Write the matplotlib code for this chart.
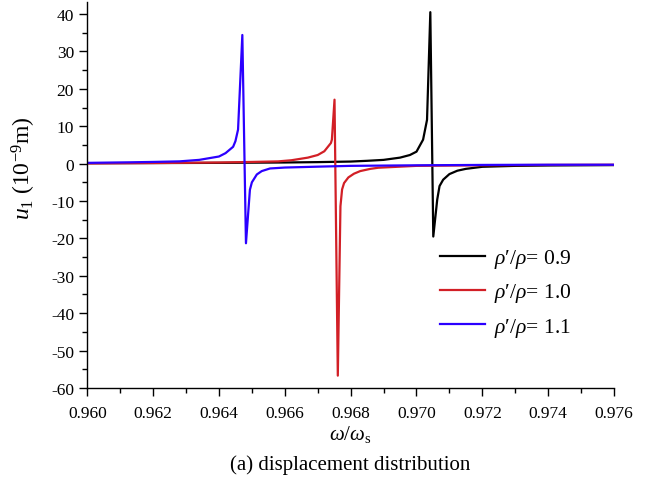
import matplotlib
matplotlib.use("Agg")
import matplotlib.pyplot as plt
from matplotlib.ticker import MultipleLocator, FormatStrFormatter

plt.rcParams['font.family'] = ['Liberation Serif', 'DejaVu Serif']
plt.rcParams['mathtext.fontset'] = 'custom'
plt.rcParams['mathtext.rm'] = 'Liberation Serif'
plt.rcParams['mathtext.it'] = 'Liberation Serif:italic'
plt.rcParams['axes.unicode_minus'] = False

# rho'/rho = 0.9
black_w = [0.960, 0.962, 0.964, 0.966, 0.967, 0.968, 0.9685, 0.969, 0.9695, 0.9698,
           0.9700, 0.9702, 0.97032, 0.97042, 0.97051, 0.97063, 0.9707, 0.97081,
           0.9710, 0.97124, 0.9715, 0.9720, 0.973, 0.974, 0.975, 0.976]
black_u = [0.1, 0.15, 0.2, 0.3, 0.4, 0.55, 0.75, 1.0, 1.6, 2.3,
           3.2, 6.4, 11.7, 40.5, -19.5, -9.6, -6.0, -4.3,
           -2.8, -1.9, -1.4, -0.85, -0.6, -0.5, -0.45, -0.4]

# rho'/rho = 1.0
red_w = [0.960, 0.962, 0.964, 0.965, 0.9658, 0.9662, 0.9667, 0.9670, 0.9672, 0.9674,
         0.96743, 0.96751, 0.96761, 0.96769, 0.96774, 0.9678, 0.96793, 0.9681, 0.96829,
         0.9686, 0.96884, 0.970, 0.972, 0.974, 0.976]
red_u = [0.05, 0.15, 0.3, 0.45, 0.6, 0.9, 1.6, 2.3, 3.3, 5.5,
         6.4, 17.1, -56.7, -11.4, -6.9, -5.2, -3.7, -2.7, -2.0,
         -1.4, -1.1, -0.6, -0.45, -0.35, -0.3]

# rho'/rho = 1.1
blue_w = [0.960, 0.9613, 0.962, 0.9628, 0.9634, 0.9640, 0.9642, 0.96443, 0.9645, 0.96458,
          0.96471, 0.96482, 0.96494, 0.9650, 0.96515, 0.9653, 0.96555, 0.966, 0.96707,
          0.968, 0.970, 0.972, 0.974, 0.976]
blue_u = [0.2, 0.35, 0.45, 0.6, 1.0, 1.9, 2.8, 4.5, 6.0, 9.1,
          34.4, -21.3, -7.0, -5.0, -2.9, -2.0, -1.3, -1.05, -0.8,
          -0.6, -0.45, -0.35, -0.3, -0.3]

labels = ["$\\rho$\u2032$/\\rho$= 0.9", "$\\rho$\u2032$/\\rho$= 1.0", "$\\rho$\u2032$/\\rho$= 1.1"]
colors = ['black', '#d21f26', '#2b00ff']

fig = plt.figure(figsize=(6.46, 4.81), dpi=100)
ax = fig.add_axes([0.1351, 0.1913, 0.8154, 0.8031])

ax.plot(black_w, black_u, color=colors[0], lw=1.6, label=labels[0])
ax.plot(red_w, red_u, color=colors[1], lw=1.6, label=labels[1])
ax.plot(blue_w, blue_u, color=colors[2], lw=1.6, label=labels[2])

ax.set_xlim(0.960, 0.976)
ax.set_ylim(-60, 43.3)
ax.xaxis.set_major_locator(MultipleLocator(0.002))
ax.xaxis.set_minor_locator(MultipleLocator(0.001))
ax.xaxis.set_major_formatter(FormatStrFormatter('%.3f'))
ax.yaxis.set_major_locator(MultipleLocator(10))
ax.yaxis.set_minor_locator(MultipleLocator(5))
ax.spines['top'].set_visible(False)
ax.spines['right'].set_visible(False)
for s in ['left', 'bottom']:
    ax.spines[s].set_linewidth(1.0)
ax.tick_params(which='major', direction='out', length=6, width=1.0, labelsize=12.5)
ax.tick_params(axis='x', which='major', pad=6)
ax.tick_params(which='minor', direction='out', length=3.5, width=1.0)

ax.set_xlabel('$\\omega/\\omega_{\\rm s}$', fontsize=15, labelpad=2)
ax.set_ylabel('$u_1\\ (10^{-9}\\rm m)$', fontsize=17)
ax.yaxis.set_label_coords(-0.093, 0.57)

ax.legend(loc='center left', bbox_to_anchor=(440 / 646, 1 - 294 / 481),
          bbox_transform=fig.transFigure, frameon=False, fontsize=15.5, borderpad=0,
          borderaxespad=0, handlelength=2.1, handletextpad=0.4, labelspacing=0.52)

fig.text(0.5427, 0.033, '(a) displacement distribution', ha='center', va='center', fontsize=15)

fig.savefig('out.png', dpi=100)
